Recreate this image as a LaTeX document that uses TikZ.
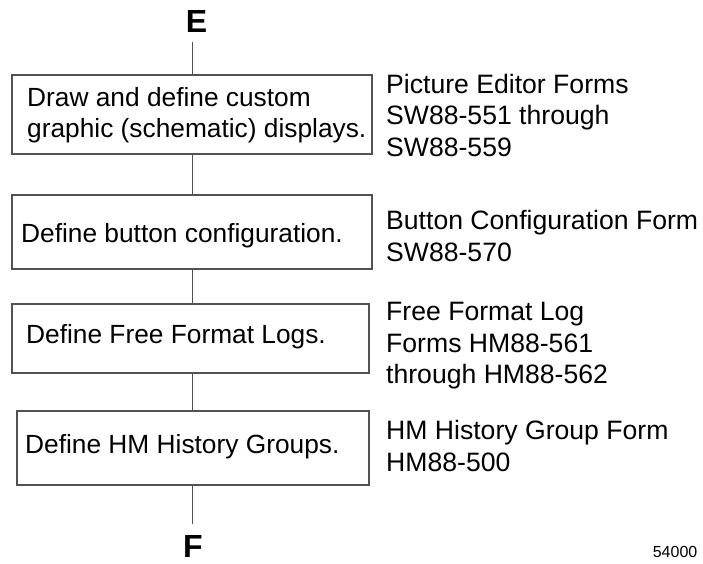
\documentclass[tikz,border=0pt]{standalone}
\usepackage{fontspec}
\setmainfont{Liberation Sans}
\newcommand{\mylines}[2]{\parbox[t]{#1}{\raggedright #2}}
\begin{document}
\begin{tikzpicture}[x=1pt,y=-1pt,
  box/.style={draw=black!68, line width=1.1pt, inner sep=0pt},
  conn/.style={draw=black!68, line width=1pt},
  txt/.style={anchor=base west, inner sep=0pt, font=\fontsize{26.3}{31.5}\selectfont},
  side/.style={anchor=base west, inner sep=0pt, font=\fontsize{26.6}{31.5}\selectfont},
  term/.style={anchor=base, inner sep=0pt, font=\fontsize{32}{36}\selectfont\bfseries}]
\useasboundingbox (0,0) rectangle (703,563);
% terminals
\node[term] (E) at (196.5,32) {E};
\node[term] (F) at (193,557.5) {F};
% boxes
\node[box, minimum width=360pt, minimum height=79pt] (b1) at (192,114.5) {};
\node[box, minimum width=360pt, minimum height=74pt] (b2) at (192,232) {};
\node[box, minimum width=357pt, minimum height=69pt] (b3) at (190.5,338.5) {};
\node[box, minimum width=352pt, minimum height=74pt] (b4) at (193,448) {};
% box texts
\node[txt] (t1) at (27,106) {\mylines{340pt}{Draw and define custom\\graphic (schematic) displays.}};
\node[txt] (t2) at (21,242) {Define button configuration.};
\node[txt] (t3) at (26,343) {Define Free Format Logs.};
\node[txt] (t4) at (25,453) {Define HM History Groups.};
% side texts
\node[side] (s1) at (386,93) {\mylines{315pt}{Picture Editor Forms\\SW88-551 through\\SW88-559}};
\node[side] (s2) at (386,229.5) {\mylines{315pt}{Button Configuration Form\\SW88-570}};
\node[side] (s3) at (386,320.5) {\mylines{315pt}{Free Format Log\\Forms HM88-561\\through HM88-562}};
\node[side] (s4) at (386,439.5) {\mylines{315pt}{HM History Group Form\\HM88-500}};
\node[anchor=base east, inner sep=0pt, font=\fontsize{16}{19}\selectfont] (num) at (697.5,557) {54000};
% connectors
\draw[conn, shorten <=9.7pt] (b1.north |- E.south) -- (b1.north);
\draw[conn] (b1.south) -- (b2.north);
\draw[conn] (b1.south |- b2.south) -- (b1.south |- b3.north);
\draw[conn] (b1.south |- b3.south) -- (b1.south |- b4.north);
\draw[conn, shorten >=11.5pt] (b1.south |- b4.south) -- (b1.south |- F.north);
\end{tikzpicture}
\end{document}
